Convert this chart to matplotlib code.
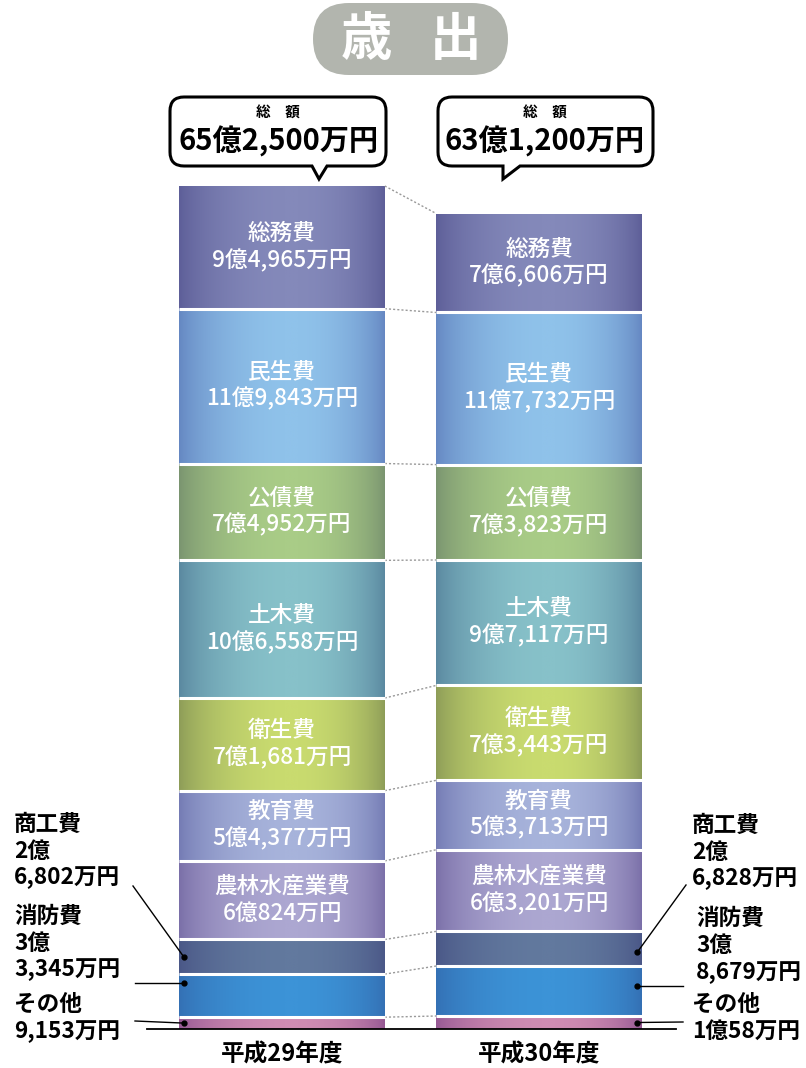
import matplotlib
matplotlib.use("Agg")
import matplotlib.pyplot as plt
import numpy as np
from matplotlib.colors import LinearSegmentedColormap
from matplotlib.patches import FancyBboxPatch
from matplotlib.path import Path
import matplotlib.patches as mpatches

plt.rcParams['font.family'] = ['Noto Sans CJK JP', 'DejaVu Sans']

# ---------------- data ----------------
years = ["平成29年度", "平成30年度"]
categories = ["総務費", "民生費", "公債費", "土木費", "衛生費", "教育費",
              "農林水産業費", "商工費", "消防費", "その他"]   # top -> bottom
values_h29 = [94965, 119843, 74952, 106558, 71681, 54377, 60824, 26802, 33345, 9153]   # 万円
values_h30 = [76606, 117732, 73823, 97117, 73443, 53713, 63201, 26828, 38679, 10058]   # 万円
labels_h29 = ["9億4,965万円", "11億9,843万円", "7億4,952万円", "10億6,558万円",
              "7億1,681万円", "5億4,377万円", "6億824万円", "2億\n6,802万円",
              "3億\n3,345万円", "9,153万円"]
labels_h30 = ["7億6,606万円", "11億7,732万円", "7億3,823万円", "9億7,117万円",
              "7億3,443万円", "5億3,713万円", "6億3,201万円", "2億\n6,828万円",
              "3億\n8,679万円", "1億58万円"]
totals = ["65億2,500万円", "63億1,200万円"]
title_chars = ["歳", "出"]

# gradient colours (edge, centre)
colors = [("#5d5e98", "#8489ba"), ("#6587c2", "#8fc2ea"), ("#7a9470", "#a9cc87"),
          ("#5a88a0", "#87c1c9"), ("#8d9c58", "#c9db6f"), ("#747bb4", "#a7b3db"),
          ("#7a6fa8", "#aca7d1"), ("#4a5787", "#62799e"), ("#3470b4", "#3c93d7"),
          ("#955893", "#cf8cb2")]

W, H = 806, 1068
fig = plt.figure(figsize=(W / 100, H / 100), dpi=100)

k = 652500 / 843.0       # 万円 per pixel
unit = 257.0             # pixels per category step
x0px, base_px = 282.0, 1029.0
ax = fig.add_axes([0, 0, 1, 1])
xlim = (-x0px / unit, (W - x0px) / unit)
ylim = (-(H - base_px) * k, base_px * k)
ax.set_xlim(*xlim)
ax.set_ylim(*ylim)
ax.axis('off')

def px2x(px):
    return (px - x0px) / unit

def py2y(py):
    return (base_px - py) * k

bar_w = 0.8
xs = np.arange(len(years))
t = np.linspace(0, 1, 256)
prof = np.where(t < 0.55, 1 - ((0.55 - t) / 0.55) ** 2, 1 - ((t - 0.55) / 0.45) ** 2)
prof = np.clip(prof, 0, 1) ** 0.8
grad = prof[None, :]

in_fs = 16.3
bounds = []
for xi, vals, labs in zip(xs, [values_h29, values_h30], [labels_h29, labels_h30]):
    v = np.array(vals, dtype=float)
    bottoms = np.cumsum(v[::-1])[::-1] - v
    bb = []
    for i, (val, b) in enumerate(zip(v, bottoms)):
        edge, cen = colors[i]
        cmap = LinearSegmentedColormap.from_list("c%d" % i, [edge, cen])
        bars = ax.bar(xi, val, bottom=b, width=bar_w, color=edge, edgecolor='none', zorder=1)
        patch = bars[0]
        im = ax.imshow(grad, extent=[xi - bar_w / 2, xi + bar_w / 2, b, b + val],
                       aspect='auto', cmap=cmap, vmin=0, vmax=1, zorder=2,
                       interpolation='bilinear')
        im.set_clip_path(patch)
        bb.append(b + val)
        if i < 7:
            ax.text(xi, b + val / 2 + 14 * k, categories[i], color='white', fontsize=in_fs,
                    ha='center', va='center', zorder=5, fontweight='medium')
            ax.text(xi, b + val / 2 - 13 * k, labs[i], color='white', fontsize=in_fs,
                    ha='center', va='center', zorder=5, fontweight='medium')
    for top in bb[1:]:
        ax.plot([xi - bar_w / 2, xi + bar_w / 2], [top, top], color='white', lw=2.2,
                zorder=4, solid_capstyle='butt')
    bounds.append(bb)
ax.set_xlim(*xlim)
ax.set_ylim(*ylim)

# dotted connectors
for b0, b1 in zip(bounds[0], bounds[1]):
    ax.plot([xs[0] + bar_w / 2, xs[1] - bar_w / 2], [b0, b1], color='#999999',
            lw=1.0, ls=(0, (1.5, 1.5)), zorder=3)

# baseline
ax.plot([px2x(147), px2x(676)], [0, 0], color='black', lw=1.3, zorder=6)

# year labels
for xi, yl in zip(xs, years):
    ax.text(xi, py2y(1054), yl, ha='center', va='center', fontsize=17, fontweight='bold', zorder=6)

# ---------------- side labels with leaders ----------------
v29 = np.array(values_h29, float); bot29 = np.cumsum(v29[::-1])[::-1] - v29
v30 = np.array(values_h30, float); bot30 = np.cumsum(v30[::-1])[::-1] - v30
dot_off = 4.5 / unit
lbl_fs = 16.3

def side_label(lines, xpx, ys):
    for ln, yy in zip(lines, ys):
        ax.text(px2x(xpx), py2y(yy), ln, ha='left', va='center', fontsize=lbl_fs,
                fontweight='bold', zorder=6)

side_label([categories[7]] + labels_h29[7].split("\n"), 14, [824, 851, 878])
side_label([categories[8]] + labels_h29[8].split("\n"), 14, [916, 943, 970])
side_label([categories[9]] + labels_h29[9].split("\n"), 14, [1004, 1032])
side_label([categories[7]] + labels_h30[7].split("\n"), 692, [825, 852, 879])
side_label([categories[8]] + labels_h30[8].split("\n"), 696, [918, 945, 973])
side_label([categories[9]] + labels_h30[9].split("\n"), 692, [1004, 1031])

def leader(start, dot):
    ax.plot([start[0], dot[0]], [start[1], dot[1]], color='black', lw=1, zorder=6)
    ax.plot(*dot, 'o', color='black', ms=3.5, zorder=7)

lx = xs[0] - bar_w / 2 + dot_off
d = (lx, bot29[7] + v29[7] / 2); leader((px2x(133), py2y(886)), d)
d = (lx, bot29[8] + v29[8] * 0.8); leader((px2x(135), d[1]), d)
d = (lx, bot29[9] + v29[9] * 0.5); leader((px2x(135), py2y(1021)), d)
rx = xs[1] + bar_w / 2 - dot_off
d = (rx, bot30[7] + v30[7] * 0.4); leader((px2x(686), py2y(885)), d)
d = (rx, bot30[8] + v30[8] * 0.6); leader((px2x(683), d[1]), d)
d = (rx, bot30[9] + v30[9] * 0.5); leader((px2x(683), py2y(1022)), d)

# ---------------- overlay: title and speech bubbles (pixel coordinates) ----------------
ov = fig.add_axes([0, 0, 1, 1], zorder=10)
ov.set_xlim(0, W)
ov.set_ylim(H, 0)
ov.axis('off')
ov.patch.set_alpha(0)

pill = FancyBboxPatch((313, 3), 195, 72, boxstyle="round,pad=0,rounding_size=36",
                      facecolor='#b2b5ae', edgecolor='none')
ov.add_patch(pill)
for cx, ch in zip([366, 455], title_chars):
    ov.text(cx, 39, ch, ha='center', va='center', fontsize=37, fontweight='bold', color='white')

def bubble(x0, x1, y0, y1, tl, tr, tip, r=14):
    verts, codes = [], []
    def add(pt, code):
        verts.append(pt); codes.append(code)
    add((x0 + r, y0), Path.MOVETO)
    add((x1 - r, y0), Path.LINETO)
    add((x1, y0), Path.CURVE3); add((x1, y0 + r), Path.CURVE3)
    add((x1, y1 - r), Path.LINETO)
    add((x1, y1), Path.CURVE3); add((x1 - r, y1), Path.CURVE3)
    add((tr, y1), Path.LINETO)
    add(tip, Path.LINETO)
    add((tl, y1), Path.LINETO)
    add((x0 + r, y1), Path.LINETO)
    add((x0, y1), Path.CURVE3); add((x0, y1 - r), Path.CURVE3)
    add((x0, y0 + r), Path.LINETO)
    add((x0, y0), Path.CURVE3); add((x0 + r, y0), Path.CURVE3)
    add((x0 + r, y0), Path.CLOSEPOLY)
    ov.add_patch(mpatches.PathPatch(Path(verts, codes), facecolor='white',
                                    edgecolor='black', lw=2.2, joinstyle='miter'))

bubble(170, 386, 97, 166, 312, 327, (319, 179))
bubble(438, 653, 97, 166, 503, 520, (503, 179))
for cx, tot in zip([278, 545], totals):
    ov.text(cx, 112, "総　額", ha='center', va='center', fontsize=10.5, fontweight='bold')
    ov.text(cx, 141, tot, ha='center', va='center', fontsize=21, fontweight='bold')

fig.savefig("out.png", dpi=100)
